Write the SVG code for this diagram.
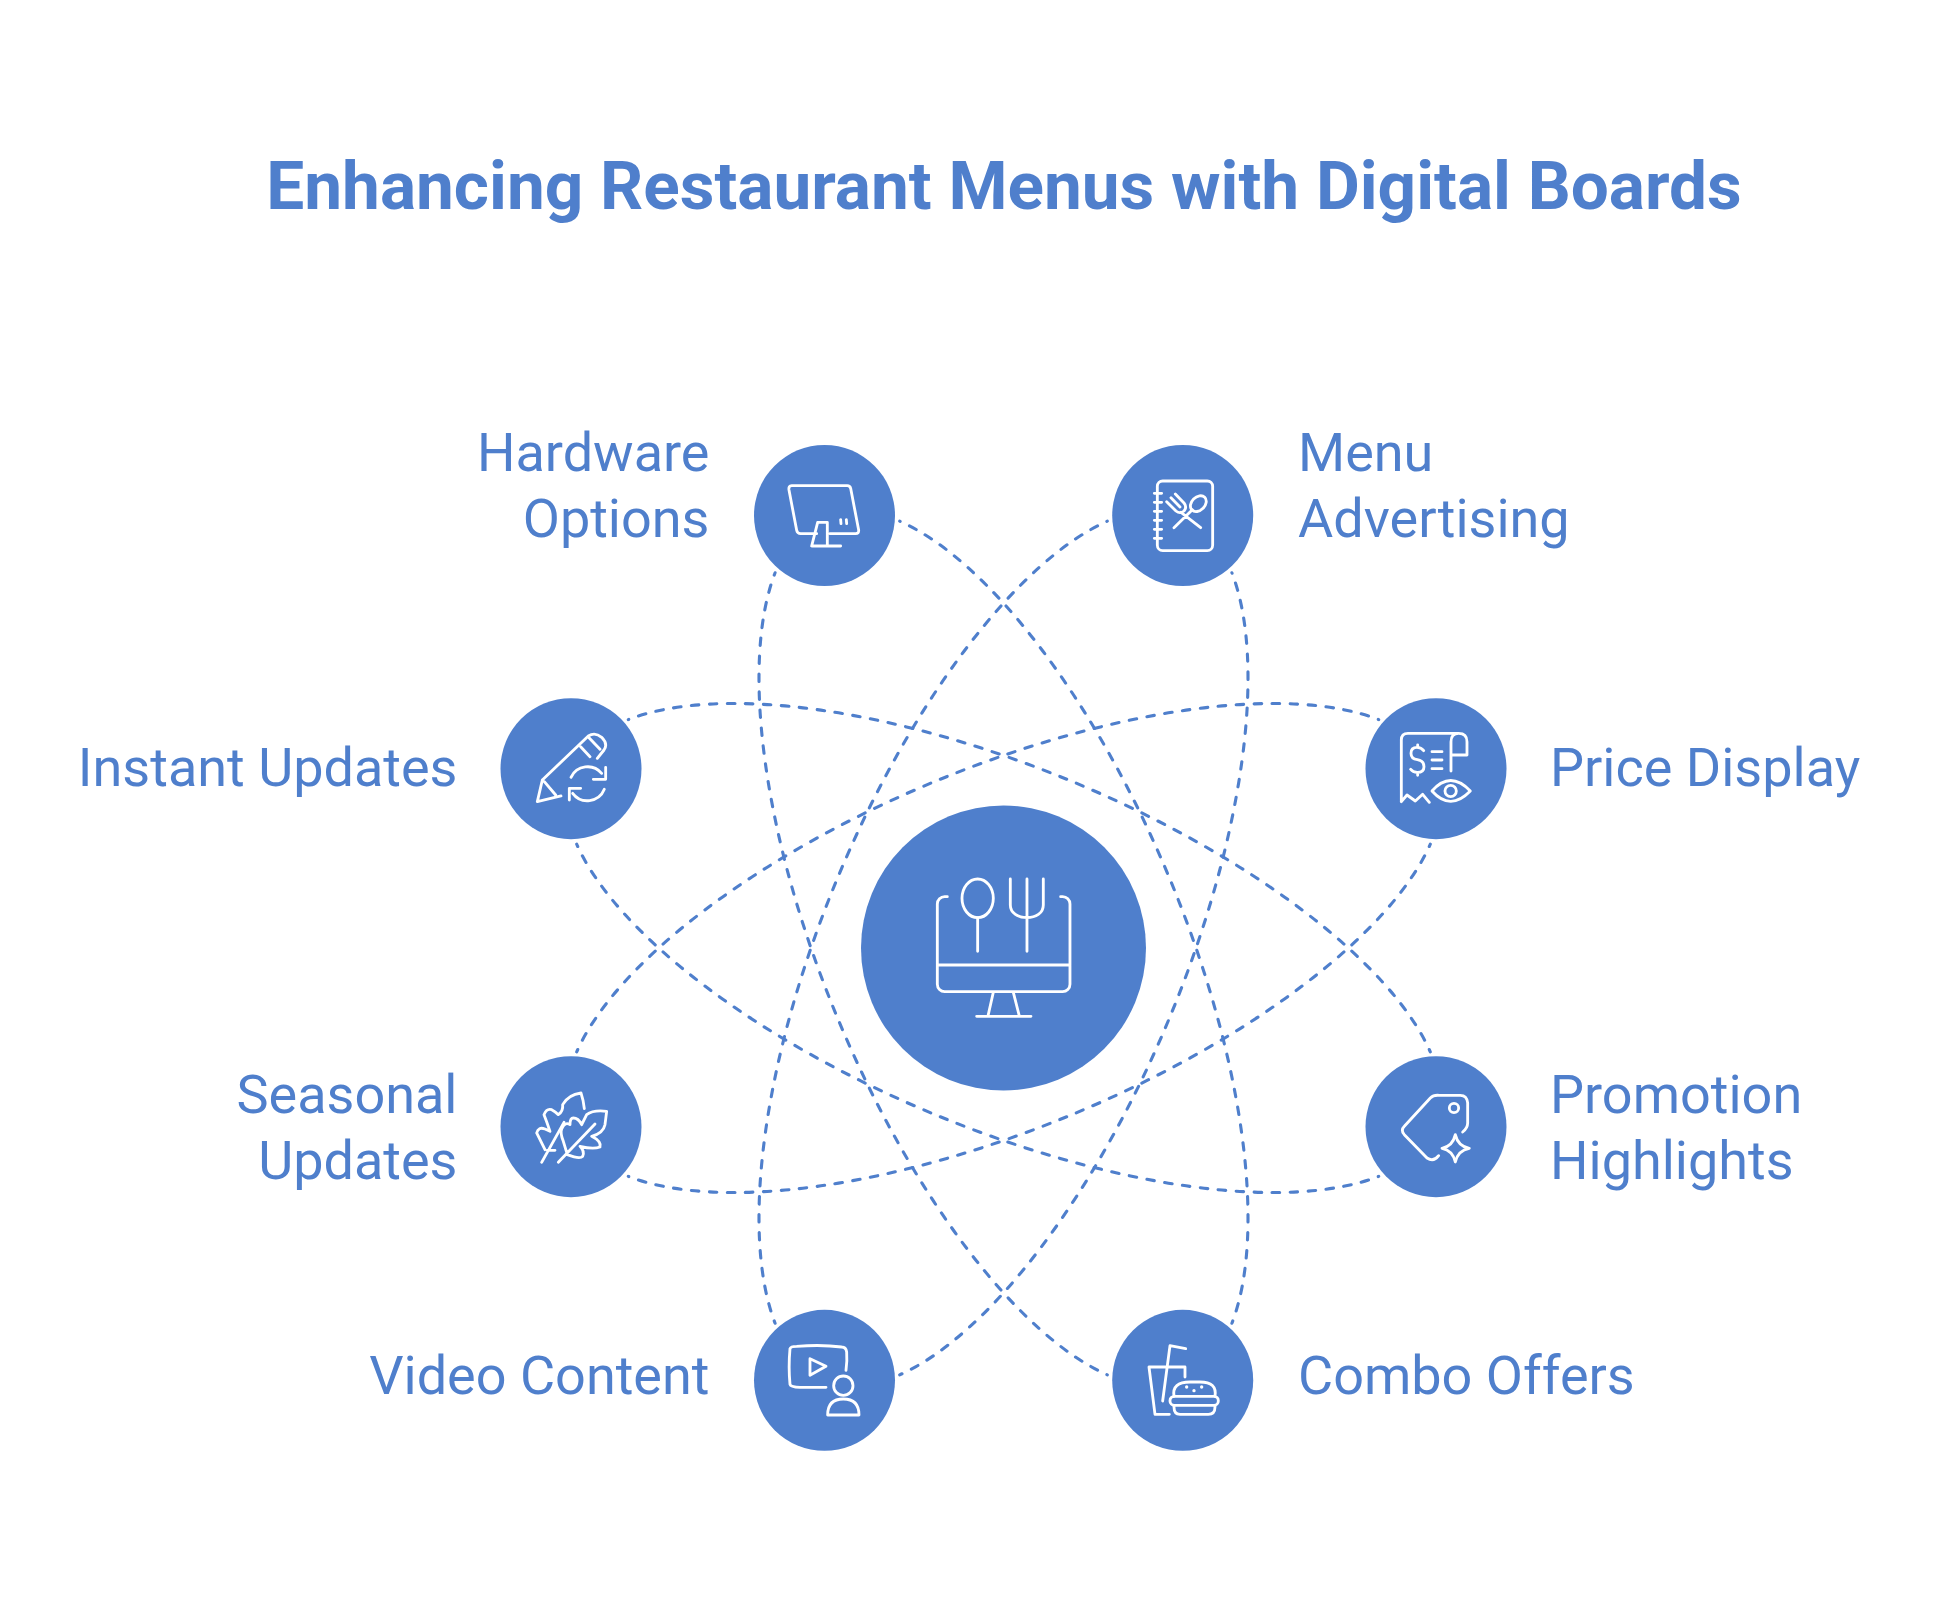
<svg xmlns="http://www.w3.org/2000/svg" width="1938" height="1607" viewBox="0 0 1938 1607">
<style>
text{font-family:Roboto,"Liberation Sans",sans-serif;fill:#4F7FCC}
.t{font-size:67.5px;font-weight:700;text-anchor:middle}
.l{font-size:54px}
.e{text-anchor:end}
.n{fill:#4F7FCC}
.c{fill:none;stroke:#4F7FCC;stroke-width:3.1;stroke-linecap:round;stroke-dasharray:7.5 10.5;stroke-dashoffset:7}
.i{fill:none;stroke:#fff;stroke-width:8.5;stroke-linecap:round;stroke-linejoin:round}
.d{fill:#fff;stroke:none}
</style>
<rect width="1938" height="1607" fill="#fff"/>
<text class="t" x="1004" y="209">Enhancing Restaurant Menus with Digital Boards</text>
<g id="connectors">
<path class="c" d="M1107.3 1374.8A468 180 67.5 0 1 775.1 572.8"/>
<path class="c" d="M899.7 521.2A468 180 67.5 0 1 1231.9 1323.2"/>
<path class="c" d="M1231.9 572.8A468 180 -67.5 0 1 899.7 1374.8"/>
<path class="c" d="M1107.3 521.2A468 180 -67.5 0 0 775.1 1323.2"/>
<path class="c" d="M628.3 719.6A468 180 22.5 0 1 1430.3 1051.8"/>
<path class="c" d="M1378.7 1176.4A468 180 22.5 0 1 576.7 844.2"/>
<path class="c" d="M1378.7 719.6A468 180 -22.5 0 0 576.7 1051.8"/>
<path class="c" d="M628.3 1176.4A468 180 -22.5 0 0 1430.3 844.2"/>
</g>
<g id="center">
<circle class="n" cx="1003.5" cy="948" r="142.5"/>
<g class="i" transform="translate(840 790) scale(.3333)">
<path d="M322 320h-8a22 22 0 0 0-22 22V583a22 22 0 0 0 22 22H668a22 22 0 0 0 22-22V342a22 22 0 0 0-22-22h-6M292 525H690M460 607L444 678M520 607L538 678M410 679H573"/>
<ellipse cx="413" cy="325" rx="47" ry="58"/>
<path d="M413 383V484M511 267V345C511 370 535 383 561 383C587 383 610 370 610 345V267M561 267V484"/>
</g>
</g>
<g id="hardware">
<circle class="n" cx="824.5" cy="515.5" r="70.5"/>
<g class="i" transform="translate(740 435) scale(.3333)">
<path d="M230 296H182Q172 296 170 286L147 165Q145 152 155 152H322Q330 152 332 160L356 285Q357 296 347 296H270M233 262H262V332M233 262L215 333H302M302 254L303 266M319 254L320 266"/>
</g>
<text class="l e" x="709.5" y="471">Hardware</text>
<text class="l e" x="709.5" y="537">Options</text>
</g>
<g id="menu">
<circle class="n" cx="1182.7" cy="515.5" r="70.5"/>
<g class="i" transform="translate(1100 435) scale(.3333)">
<rect x="172" y="138" width="166" height="209" rx="16"/>
<path d="M163 175H185M163 202H185M163 229H185M163 256H185M163 283H185M163 310H185"/>
<ellipse cx="295" cy="206" rx="27" ry="20" transform="rotate(-45 295 206)"/>
<path d="M277 224L222 278M200 200L228 228Q240 238 252 228Q262 216 252 204L226 177M213 188L240 216M243 232L302 278"/>
</g>
<text class="l" x="1298" y="471">Menu</text>
<text class="l" x="1298" y="537">Advertising</text>
</g>
<g id="instant">
<circle class="n" cx="571" cy="768.7" r="70.5"/>
<g class="i" transform="translate(490 690) scale(.3333)">
<path d="M157 270L295 138Q315 125 335 142Q355 162 342 180L322 205M157 270L142 335L213 318M163 275L197 315M272 170L300 200M297 143L330 178"/>
<path d="M243 262A55 55 0 0 1 335 250M347 232V268H310M343 298A55 55 0 0 1 248 310M238 330V295H272"/>
</g>
<text class="l e" x="457.5" y="786">Instant Updates</text>
</g>
<g id="price">
<circle class="n" cx="1436" cy="768.7" r="70.5"/>
<g class="i" transform="translate(1352 690) scale(.3333)">
<path d="M148 335V150Q148 130 168 130H320Q345 130 345 155V195H297M297 243V155Q297 130 320 130M148 335L165 315L190 333L212 313L232 337"/>
<path d="M215 182Q208 172 195 172Q177 172 177 190Q177 207 196 209Q216 212 216 230Q216 247 196 247Q182 247 176 238M197 165V172M197 247V256M240 185H270M240 210H270M240 236H270"/>
<path d="M240 303Q295 240 355 303Q295 365 240 303Z"/>
<circle cx="296" cy="303" r="17"/>
</g>
<text class="l" x="1550" y="786">Price Display</text>
</g>
<g id="seasonal">
<circle class="n" cx="571" cy="1126.7" r="70.5"/>
<g class="i" transform="translate(490 1043) scale(.3333)">
<path d="M155 358L222 238M172 322H195M165 320Q150 290 140 270Q145 250 165 258L180 265Q170 235 162 215Q170 195 185 200Q195 205 205 215Q220 205 218 185Q235 155 273 150Q280 170 283 197"/>
<path d="M205 358L315 243M232 335Q270 350 278 340Q285 325 270 310Q310 320 330 312Q335 295 305 280Q340 270 345 245L350 205Q310 200 290 215L275 245Q265 225 250 225Q240 225 240 245Q225 235 215 258Q210 270 220 295L232 335"/>
</g>
<text class="l e" x="457.5" y="1113">Seasonal</text>
<text class="l e" x="457.5" y="1179">Updates</text>
</g>
<g id="promotion">
<circle class="n" cx="1436" cy="1126.7" r="70.5"/>
<g class="i" transform="translate(1352 1043) scale(.3333)">
<path d="M260 338Q245 358 225 345L157 275Q145 262 157 250L235 165Q245 155 262 157H325Q345 157 347 180V240Q347 255 332 267"/>
<circle cx="306" cy="195" r="14"/>
<path d="M310 275Q318 310 352 316Q318 322 310 357Q302 322 270 316Q302 310 310 275Z"/>
</g>
<text class="l" x="1550" y="1113">Promotion</text>
<text class="l" x="1550" y="1179">Highlights</text>
</g>
<g id="video">
<circle class="n" cx="824.5" cy="1380.3" r="70.5"/>
<g class="i" transform="translate(740 1297) scale(.3333)">
<path d="M258 271H180Q152 270 150 262Q145 210 150 155Q152 148 170 148Q245 142 305 150Q318 150 320 165Q322 190 318 220"/>
<path d="M210 185L258 208L210 235Z"/>
<circle cx="310" cy="266" r="29"/>
<path d="M263 354Q263 306 310 306Q357 306 357 354Z"/>
</g>
<text class="l e" x="709.5" y="1394">Video Content</text>
</g>
<g id="combo">
<circle class="n" cx="1182.7" cy="1380.3" r="70.5"/>
<g class="i" transform="translate(1100 1297) scale(.3333)">
<path d="M208 352H165L147 210H255V240M257 155L210 146L188 312"/>
<path d="M222 298Q215 255 270 255H300Q352 255 345 298"/>
<rect x="210" y="298" width="145" height="27" rx="13"/>
<path d="M222 325V330Q222 352 240 352H325Q345 352 345 330V325"/>
<circle class="d" cx="260" cy="270" r="5"/><circle class="d" cx="282" cy="281" r="5"/><circle class="d" cx="305" cy="270" r="5"/>
</g>
<text class="l" x="1298" y="1394">Combo Offers</text>
</g>
</svg>
